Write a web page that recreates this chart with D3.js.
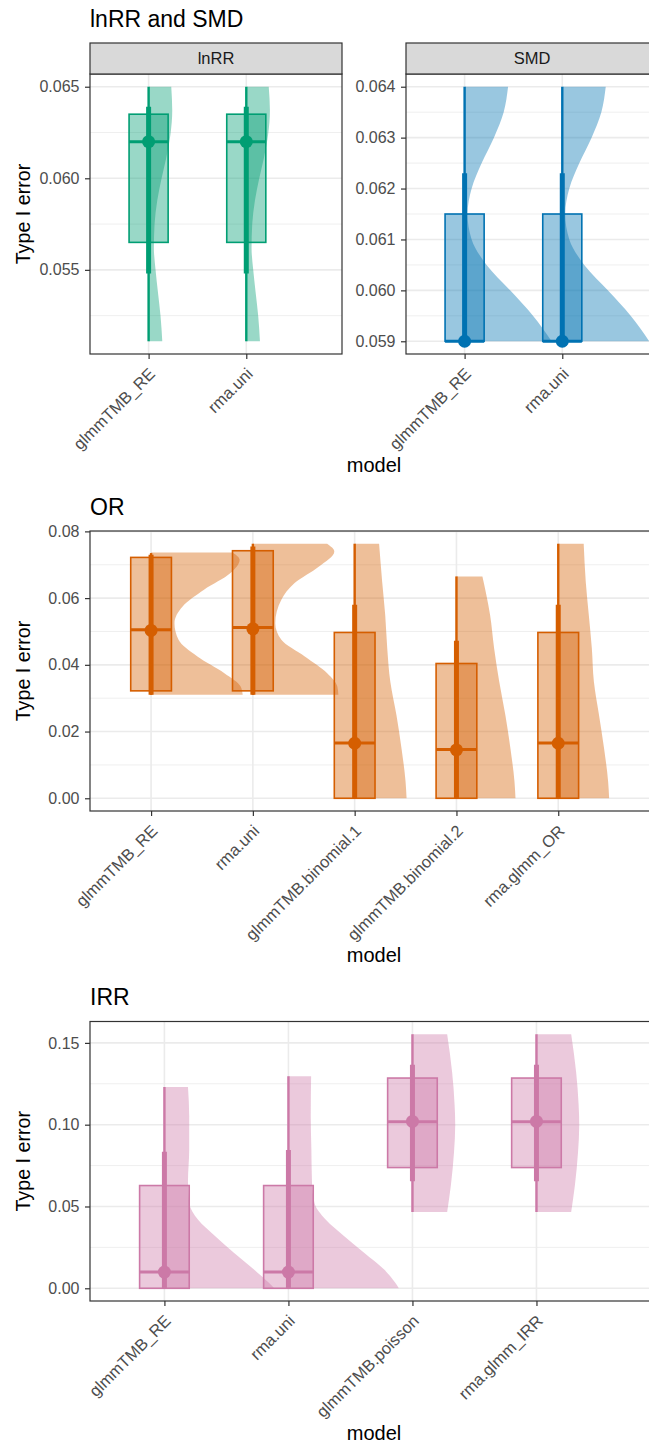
<!DOCTYPE html>
<html><head><meta charset="utf-8">
<script src="https://cdn.jsdelivr.net/npm/d3@7"></script>
<style>
body{margin:0;background:#fff}
svg{display:block}
text{font-family:"Liberation Sans",Arial,Helvetica,sans-serif}
</style>
</head><body>
<svg id="chart" width="649" height="1443"></svg>
<script>
// ---------------- DATA ----------------
const twoModels = ["glmmTMB_RE", "rma.uni"];
const orModels = ["glmmTMB_RE", "rma.uni", "glmmTMB.binomial.1", "glmmTMB.binomial.2", "rma.glmm_OR"];
const irrModels = ["glmmTMB_RE", "rma.uni", "glmmTMB.poisson", "rma.glmm_IRR"];

// lnRR
const lnrrTicks = [0.055, 0.060, 0.065];
const lnrrMinor = [0.0525, 0.0575, 0.0625];
const lnrrBoxLo = [0.0565, 0.0565];
const lnrrBoxMed = [0.0620, 0.0620];
const lnrrBoxHi = [0.0635, 0.0635];
const lnrrPoint = [0.0620, 0.0620];
const lnrrThickLo = [0.0548, 0.0548];
const lnrrThickHi = [0.0639, 0.0639];
const lnrrThinLo = [0.0511, 0.0511];
const lnrrThinHi = [0.0650, 0.0650];
const lnrrSlabY = [
  [0.0511, 0.0525, 0.0538, 0.0550, 0.0562, 0.0575, 0.0588, 0.0600, 0.0611, 0.0624, 0.0637, 0.0650],
  [0.0511, 0.0525, 0.0538, 0.0550, 0.0562, 0.0575, 0.0588, 0.0600, 0.0611, 0.0624, 0.0637, 0.0650]
];
const lnrrSlabW = [
  [0.14, 0.122, 0.095, 0.071, 0.054, 0.061, 0.089, 0.133, 0.18, 0.224, 0.242, 0.232],
  [0.14, 0.122, 0.095, 0.071, 0.054, 0.061, 0.089, 0.133, 0.18, 0.224, 0.242, 0.230]
];

// SMD
const smdTicks = [0.059, 0.060, 0.061, 0.062, 0.063, 0.064];
const smdMinor = [0.0595, 0.0605, 0.0615, 0.0625, 0.0635];
const smdBoxLo = [0.0590, 0.0590];
const smdBoxMed = [0.0590, 0.0590];
const smdBoxHi = [0.0615, 0.0615];
const smdPoint = [0.0590, 0.0590];
const smdThickLo = [0.0590, 0.0590];
const smdThickHi = [0.0623, 0.0623];
const smdThinLo = [0.0590, 0.0590];
const smdThinHi = [0.0640, 0.0640];
const smdSlabY = [
  [0.0590, 0.0595, 0.0600, 0.0605, 0.0610, 0.0615, 0.0620, 0.0625, 0.0630, 0.0635, 0.0640],
  [0.0590, 0.0595, 0.0600, 0.0605, 0.0610, 0.0615, 0.0620, 0.0625, 0.0630, 0.0635, 0.0640]
];
const smdSlabW = [
  [0.89, 0.70, 0.466, 0.225, 0.072, 0.03, 0.072, 0.175, 0.30, 0.40, 0.445],
  [0.89, 0.70, 0.466, 0.225, 0.072, 0.03, 0.072, 0.175, 0.30, 0.40, 0.445]
];

// OR
const orTicks = [0.00, 0.02, 0.04, 0.06, 0.08];
const orMinor = [0.01, 0.03, 0.05, 0.07];
const orBoxLo = [0.0322, 0.0322, 0.0, 0.0, 0.0];
const orBoxMed = [0.0505, 0.0512, 0.0166, 0.0146, 0.0166];
const orBoxHi = [0.0722, 0.0742, 0.0497, 0.0404, 0.0497];
const orPoint = [0.0503, 0.0508, 0.0165, 0.0145, 0.0165];
const orThickLo = [0.0310, 0.0310, 0.0, 0.0, 0.0];
const orThickHi = [0.0730, 0.0755, 0.0580, 0.0472, 0.0580];
const orThinLo = [0.0310, 0.0310, 0.0, 0.0, 0.0];
const orThinHi = [0.0735, 0.0763, 0.0763, 0.0665, 0.0763];
const orSlabY = [
  [0.0310, 0.0335, 0.0375, 0.0425, 0.0475, 0.0525, 0.0575, 0.0625, 0.0675, 0.0715, 0.0737],
  [0.0310, 0.0335, 0.0375, 0.0425, 0.0475, 0.0525, 0.0595, 0.0645, 0.0695, 0.0740, 0.0763],
  [0.0, 0.005, 0.015, 0.025, 0.035, 0.045, 0.055, 0.065, 0.0763],
  [0.0, 0.005, 0.015, 0.025, 0.035, 0.045, 0.055, 0.0665],
  [0.0, 0.005, 0.015, 0.025, 0.035, 0.045, 0.055, 0.065, 0.0763]
];
const orSlabW = [
  [0.90, 0.88, 0.72, 0.455, 0.27, 0.23, 0.31, 0.52, 0.78, 0.87, 0.80],
  [0.84, 0.83, 0.73, 0.51, 0.28, 0.22, 0.28, 0.41, 0.65, 0.80, 0.73],
  [0.51, 0.50, 0.46, 0.41, 0.35, 0.32, 0.30, 0.27, 0.24],
  [0.58, 0.57, 0.53, 0.48, 0.42, 0.37, 0.33, 0.255],
  [0.50, 0.49, 0.45, 0.40, 0.35, 0.33, 0.30, 0.27, 0.25]
];

// IRR
const irrTicks = [0.00, 0.05, 0.10, 0.15];
const irrMinor = [0.025, 0.075, 0.125];
const irrBoxLo = [0.0, 0.0, 0.0738, 0.0738];
const irrBoxMed = [0.0099, 0.0099, 0.1018, 0.1018];
const irrBoxHi = [0.0628, 0.0628, 0.1285, 0.1285];
const irrPoint = [0.0099, 0.0099, 0.1020, 0.1020];
const irrThickLo = [0.0, 0.0, 0.0655, 0.0655];
const irrThickHi = [0.0835, 0.0845, 0.1367, 0.1367];
const irrThinLo = [0.0, 0.0, 0.0467, 0.0467];
const irrThinHi = [0.1230, 0.1296, 0.1553, 0.1553];
const irrSlabY = [
  [0.0, 0.0035, 0.0116, 0.0217, 0.0318, 0.042, 0.0521, 0.065, 0.085, 0.105, 0.1230],
  [0.0, 0.0035, 0.0116, 0.0217, 0.0318, 0.042, 0.0521, 0.065, 0.085, 0.105, 0.1296],
  [0.0467, 0.063, 0.083, 0.100, 0.112, 0.132, 0.1553],
  [0.0467, 0.063, 0.083, 0.100, 0.112, 0.132, 0.1553]
];
const irrSlabW = [
  [0.885, 0.84, 0.72, 0.56, 0.41, 0.27, 0.20, 0.19, 0.20, 0.20, 0.19],
  [0.89, 0.86, 0.77, 0.61, 0.45, 0.30, 0.21, 0.19, 0.185, 0.18, 0.183],
  [0.28, 0.31, 0.335, 0.345, 0.34, 0.32, 0.28],
  [0.28, 0.31, 0.335, 0.345, 0.34, 0.32, 0.28]
];

// ---------------- STYLE ----------------
const COL_LNRR = "#009E73", COL_SMD = "#0072B2", COL_OR = "#D55E00", COL_IRR = "#CC79A7";
const BORDER = "#333333", GRID = "#EBEBEB", TICKTXT = "#4D4D4D";
const ALPHA = 0.4;
const FONT = '"Liberation Sans",Arial,Helvetica,sans-serif';

const svg = d3.select("#chart");
svg.append("rect").attr("width", 649).attr("height", 1443).attr("fill", "#fff");
let clipN = 0;

function drawPanel(o) {
  const n = o.models.length;
  const x = d3.scaleLinear().domain([0.4, n + 0.98]).range([o.left, o.right]);
  const lo = d3.min(o.thinLo), hi = d3.max(o.thinHi), pad = (hi - lo) * 0.05;
  const y = d3.scaleLinear().domain([lo - pad, hi + pad]).range([o.bottom, o.top]);
  const step = x(2) - x(1);
  const idx = o.models.map((m, i) => i + 1);
  const clipId = "clip" + (clipN++);
  svg.append("clipPath").attr("id", clipId).append("rect")
    .attr("x", o.left).attr("y", o.top).attr("width", o.right - o.left).attr("height", o.bottom - o.top);

  const g = svg.append("g");
  const pg = g.append("g").attr("clip-path", `url(#${clipId})`);
  // grid
  pg.selectAll(".minor").data(o.minor).join("line")
    .attr("x1", o.left).attr("x2", o.right).attr("y1", d => y(d)).attr("y2", d => y(d))
    .attr("stroke", GRID).attr("stroke-width", 0.8);
  pg.selectAll(".major").data(o.ticks).join("line")
    .attr("x1", o.left).attr("x2", o.right).attr("y1", d => y(d)).attr("y2", d => y(d))
    .attr("stroke", GRID).attr("stroke-width", 1.6);
  pg.selectAll(".vmajor").data(idx).join("line")
    .attr("y1", o.top).attr("y2", o.bottom).attr("x1", d => x(d)).attr("x2", d => x(d))
    .attr("stroke", GRID).attr("stroke-width", 1.6);

  // slabs
  o.slabY.forEach((ys, i) => {
    const pts = ys.map((v, k) => [v, o.slabW[i][k]]);
    const area = d3.area().curve(d3.curveMonotoneY)
      .y(d => y(d[0])).x0(x(i + 1)).x1(d => x(i + 1) + d[1] * step);
    pg.append("path").attr("d", area(pts)).attr("fill", o.color).attr("fill-opacity", ALPHA);
  });

  // boxes
  idx.forEach((c, i) => {
    const bx = x(c - 0.2), bw = x(c + 0.2) - x(c - 0.2);
    pg.append("rect").attr("x", bx).attr("width", bw)
      .attr("y", y(o.boxHi[i])).attr("height", y(o.boxLo[i]) - y(o.boxHi[i]))
      .attr("fill", o.color).attr("fill-opacity", ALPHA)
      .attr("stroke", o.color).attr("stroke-width", 1.6);
    pg.append("line").attr("x1", bx).attr("x2", bx + bw)
      .attr("y1", y(o.boxMed[i])).attr("y2", y(o.boxMed[i]))
      .attr("stroke", o.color).attr("stroke-width", 3);
  });
  // intervals
  pg.selectAll(".thin").data(idx).join("line")
    .attr("x1", d => x(d)).attr("x2", d => x(d))
    .attr("y1", (d, i) => y(o.thinLo[i])).attr("y2", (d, i) => y(o.thinHi[i]))
    .attr("stroke", o.color).attr("stroke-width", 2.4);
  pg.selectAll(".thick").data(idx).join("line")
    .attr("x1", d => x(d)).attr("x2", d => x(d))
    .attr("y1", (d, i) => y(o.thickLo[i])).attr("y2", (d, i) => y(o.thickHi[i]))
    .attr("stroke", o.color).attr("stroke-width", 5);
  pg.selectAll(".pt").data(idx).join("circle")
    .attr("cx", d => x(d)).attr("cy", (d, i) => y(o.point[i])).attr("r", 6.5)
    .attr("fill", o.color);

  // border
  g.append("rect").attr("x", o.left).attr("y", o.top)
    .attr("width", o.right - o.left).attr("height", o.bottom - o.top)
    .attr("fill", "none").attr("stroke", BORDER).attr("stroke-width", 1.2);

  // y axis
  const ya = g.append("g").attr("transform", `translate(${o.left},0)`)
    .call(d3.axisLeft(y).tickValues(o.ticks).tickFormat(d3.format(o.fmt)).tickSize(5).tickPadding(5.5));
  ya.select(".domain").remove();
  ya.selectAll(".tick line").attr("stroke", BORDER).attr("stroke-width", 1.2);
  ya.selectAll(".tick text").attr("fill", TICKTXT).attr("font-size", 16).attr("font-family", FONT);

  // x axis
  const xa = g.append("g").attr("transform", `translate(0,${o.bottom})`)
    .call(d3.axisBottom(x).tickValues(idx).tickFormat(d => o.models[d - 1]).tickSize(5));
  xa.select(".domain").remove();
  xa.selectAll(".tick line").attr("stroke", BORDER).attr("stroke-width", 1.2);
  xa.selectAll(".tick text").attr("fill", TICKTXT).attr("font-size", 16.5).attr("font-family", FONT)
    .attr("y", 0).attr("dy", null).attr("text-anchor", "end")
    .attr("transform", "translate(7,21) rotate(-45)");

  if (o.strip) {
    g.append("rect").attr("x", o.left).attr("y", o.top - 31).attr("width", o.right - o.left).attr("height", 31)
      .attr("fill", "#D9D9D9").attr("stroke", BORDER).attr("stroke-width", 1.2);
    g.append("text").attr("x", (o.left + o.right) / 2).attr("y", o.top - 15.5).attr("dy", "0.35em")
      .attr("text-anchor", "middle").attr("font-size", 16.5).attr("fill", "#1A1A1A").text(o.strip);
  }
}

function plotTitles(title, titleY, top, bottom, modelY) {
  svg.append("text").attr("x", 90).attr("y", titleY).attr("font-size", 23).attr("fill", "#000").text(title);
  svg.append("text").attr("transform", `translate(29.5,${(top + bottom) / 2}) rotate(-90)`)
    .attr("text-anchor", "middle").attr("font-size", 19.7).attr("fill", "#000").text("Type I error");
  svg.append("text").attr("x", 374).attr("y", modelY).attr("text-anchor", "middle")
    .attr("font-size", 20).attr("fill", "#000").text("model");
}

// ---- Plot 1: lnRR and SMD ----
drawPanel({left: 90, right: 342, top: 74, bottom: 354, models: twoModels, color: COL_LNRR, fmt: ".3f",
  ticks: lnrrTicks, minor: lnrrMinor, boxLo: lnrrBoxLo, boxMed: lnrrBoxMed, boxHi: lnrrBoxHi, point: lnrrPoint,
  thickLo: lnrrThickLo, thickHi: lnrrThickHi, thinLo: lnrrThinLo, thinHi: lnrrThinHi,
  slabY: lnrrSlabY, slabW: lnrrSlabW, strip: "lnRR"});
drawPanel({left: 406, right: 658, top: 74, bottom: 354, models: twoModels, color: COL_SMD, fmt: ".3f",
  ticks: smdTicks, minor: smdMinor, boxLo: smdBoxLo, boxMed: smdBoxMed, boxHi: smdBoxHi, point: smdPoint,
  thickLo: smdThickLo, thickHi: smdThickHi, thinLo: smdThinLo, thinHi: smdThinHi,
  slabY: smdSlabY, slabW: smdSlabW, strip: "SMD"});
plotTitles("lnRR and SMD", 27, 74, 354, 472);

// ---- Plot 2: OR ----
drawPanel({left: 90, right: 658, top: 531, bottom: 811, models: orModels, color: COL_OR, fmt: ".2f",
  ticks: orTicks, minor: orMinor, boxLo: orBoxLo, boxMed: orBoxMed, boxHi: orBoxHi, point: orPoint,
  thickLo: orThickLo, thickHi: orThickHi, thinLo: orThinLo, thinHi: orThinHi,
  slabY: orSlabY, slabW: orSlabW});
plotTitles("OR", 515, 531, 811, 962);

// ---- Plot 3: IRR ----
drawPanel({left: 90, right: 658, top: 1021.5, bottom: 1301, models: irrModels, color: COL_IRR, fmt: ".2f",
  ticks: irrTicks, minor: irrMinor, boxLo: irrBoxLo, boxMed: irrBoxMed, boxHi: irrBoxHi, point: irrPoint,
  thickLo: irrThickLo, thickHi: irrThickHi, thinLo: irrThinLo, thinHi: irrThinHi,
  slabY: irrSlabY, slabW: irrSlabW});
plotTitles("IRR", 1005, 1021.5, 1301, 1440);
</script>
</body></html>
